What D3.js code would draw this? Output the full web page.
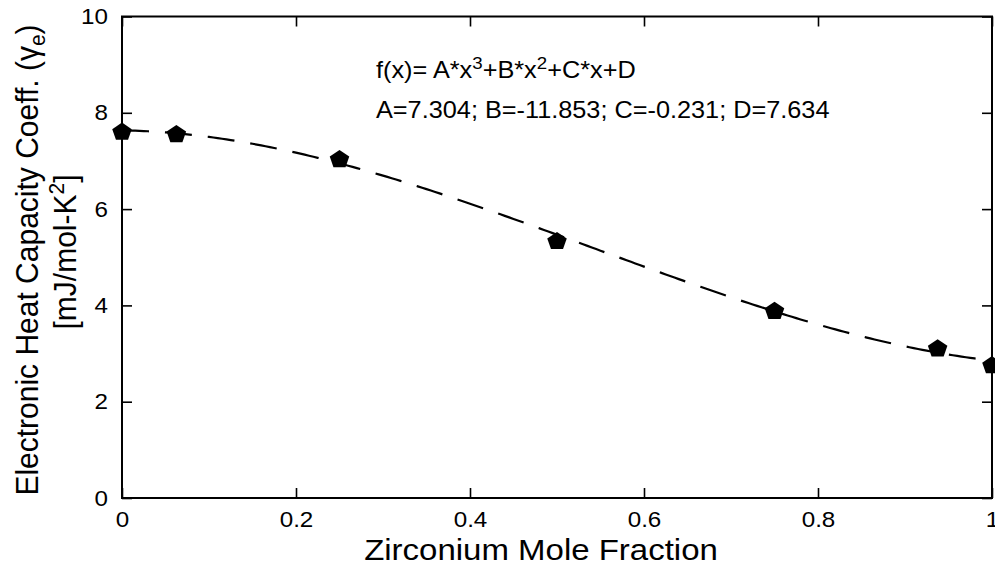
<!DOCTYPE html>
<html>
<head>
<meta charset="utf-8">
<script src="https://cdn.jsdelivr.net/npm/d3@7"></script>
<style>
  html, body { margin: 0; padding: 0; background: #fff; }
  svg { display: block; font-family: "Liberation Sans", Arial, Helvetica, sans-serif; }
</style>
</head>
<body>
<svg id="chart" width="995" height="567"></svg>
<script>
// Measured electronic heat capacity coefficient vs. Zr mole fraction
const zrFraction = [0, 0.0625, 0.25, 0.5, 0.75, 0.9375, 1.0];
const gammaE     = [7.62, 7.57, 7.05, 5.35, 3.90, 3.12, 2.77];

// Cubic fit coefficients: f(x) = A*x^3 + B*x^2 + C*x + D
const fitNames  = ["A", "B", "C", "D"];
const fitCoeffs = [7.304, -11.853, -0.231, 7.634];

// Axis ticks and labels
const xTicks      = [0, 0.2, 0.4, 0.6, 0.8, 1];
const xTickLabels = ["0", "0.2", "0.4", "0.6", "0.8", "1"];
const yTicks      = [0, 2, 4, 6, 8, 10];
const yTickLabels = ["0", "2", "4", "6", "8", "10"];

const svg = d3.select("#chart");
const SX = 1.1;          // slight horizontal widening of the lettering
const plot = { left: 122, right: 992, top: 16.5, bottom: 498 };

const x = d3.scaleLinear().domain([0, 1]).range([plot.left, plot.right]);
const y = d3.scaleLinear().domain([0, 10]).range([plot.bottom, plot.top]);

const TICK = 10;

// Tick marks on all four sides, pointing inward
function styleAxis(g) {
  g.select(".domain").remove();
  g.selectAll(".tick line").attr("stroke", "#000").attr("stroke-width", 1.6);
  g.selectAll(".tick text")
    .attr("fill", "#000")
    .style("font-size", "22px");
}

const gx = svg.append("g")
  .attr("transform", `translate(0,${plot.bottom})`)
  .call(d3.axisBottom(x).tickValues(xTicks)
        .tickFormat((d, i) => xTickLabels[i])
        .tickSizeInner(-TICK).tickSizeOuter(0).tickPadding(13))
  .call(styleAxis);
gx.selectAll(".tick text").each(function () {
  const t = d3.select(this);
  const yy = +t.attr("y");
  t.attr("y", 0).attr("dy", null)
   .attr("transform", `translate(0,${yy + 16}) scale(${SX},1)`);
});

const gy = svg.append("g")
  .attr("transform", `translate(${plot.left},0)`)
  .call(d3.axisLeft(y).tickValues(yTicks)
        .tickFormat((d, i) => yTickLabels[i])
        .tickSizeInner(-TICK).tickSizeOuter(0).tickPadding(14))
  .call(styleAxis);
gy.selectAll(".tick text").each(function () {
  const t = d3.select(this);
  const xx = +t.attr("x");
  t.attr("x", 0).attr("transform", `translate(${xx},0) scale(${SX},1)`);
});

svg.append("g")
  .attr("transform", `translate(0,${plot.top})`)
  .call(d3.axisTop(x).tickValues(xTicks).tickFormat("")
        .tickSizeInner(-TICK).tickSizeOuter(0))
  .call(styleAxis);

svg.append("g")
  .attr("transform", `translate(${plot.right},0)`)
  .call(d3.axisRight(y).tickValues(yTicks).tickFormat("")
        .tickSizeInner(-TICK).tickSizeOuter(0))
  .call(styleAxis);

// Frame
svg.append("rect")
  .attr("x", plot.left).attr("y", plot.top)
  .attr("width", plot.right - plot.left)
  .attr("height", plot.bottom - plot.top)
  .attr("fill", "none").attr("stroke", "#000").attr("stroke-width", 2);

// Fitted cubic, dashed
const [A, B, C, D] = fitCoeffs;
const fit = xv => ((A * xv + B) * xv + C) * xv + D;
const fitPts = d3.range(0, 201).map(i => i / 200).map(xv => [xv, fit(xv)]);

svg.append("path")
  .datum(fitPts)
  .attr("d", d3.line().x(d => x(d[0])).y(d => y(d[1])))
  .attr("fill", "none")
  .attr("stroke", "#000")
  .attr("stroke-width", 2.2)
  .attr("stroke-dasharray", "27,16");

// Pentagon marker symbol (point up)
const pentagon = {
  draw(ctx, size) {
    const r = Math.sqrt(size / (2.5 * Math.sin(2 * Math.PI / 5)));
    for (let k = 0; k < 5; k++) {
      const a = -Math.PI / 2 + k * 2 * Math.PI / 5;
      const px = r * Math.cos(a), py = r * Math.sin(a);
      if (k === 0) ctx.moveTo(px, py); else ctx.lineTo(px, py);
    }
    ctx.closePath();
  }
};
const sym = d3.symbol().type(pentagon).size(215);

svg.append("g")
  .selectAll("path")
  .data(zrFraction.map((xv, i) => [xv, gammaE[i]]))
  .join("path")
  .attr("d", sym)
  .attr("transform", d => `translate(${x(d[0])},${y(d[1]) + 1}) scale(1.08,1)`)
  .attr("fill", "#000");

// Fit equation and coefficients
const eq = svg.append("text")
  .attr("transform", `translate(376,78) scale(${SX},1)`)
  .style("font-size", "23px").attr("fill", "#000");
eq.append("tspan").text("f(x)= A*x");
eq.append("tspan").attr("dy", -9).style("font-size", "17px").text("3");
eq.append("tspan").attr("dy", 9).text("+B*x");
eq.append("tspan").attr("dy", -9).style("font-size", "17px").text("2");
eq.append("tspan").attr("dy", 9).text("+C*x+D");

svg.append("text")
  .attr("transform", `translate(376,118) scale(${SX},1)`)
  .style("font-size", "23px").attr("fill", "#000")
  .text(fitNames.map((n, i) => `${n}=${fitCoeffs[i]}`).join("; "));

// Axis titles
svg.append("text")
  .attr("transform", `translate(${(plot.left + plot.right) / 2 - 16},560) scale(${SX},1)`)
  .attr("text-anchor", "middle")
  .style("font-size", "30px").attr("fill", "#000")
  .text("Zirconium Mole Fraction");

const yl1 = svg.append("text")
  .attr("transform", "translate(38,260) rotate(-90) scale(1,1.05)")
  .attr("text-anchor", "middle")
  .style("font-size", "30px").attr("fill", "#000");
yl1.append("tspan").text("Electronic Heat Capacity Coeff. (");
yl1.append("tspan").text("γ");
yl1.append("tspan").attr("dy", 7).style("font-size", "21px").text("e");
yl1.append("tspan").attr("dy", -7).text(")");

const yl2 = svg.append("text")
  .attr("transform", "translate(76,252) rotate(-90) scale(1,1.05)")
  .attr("text-anchor", "middle")
  .style("font-size", "30px").attr("fill", "#000");
yl2.append("tspan").text("[mJ/mol-K");
yl2.append("tspan").attr("dy", -11).style("font-size", "21px").text("2");
yl2.append("tspan").attr("dy", 11).text("]");
</script>
</body>
</html>
